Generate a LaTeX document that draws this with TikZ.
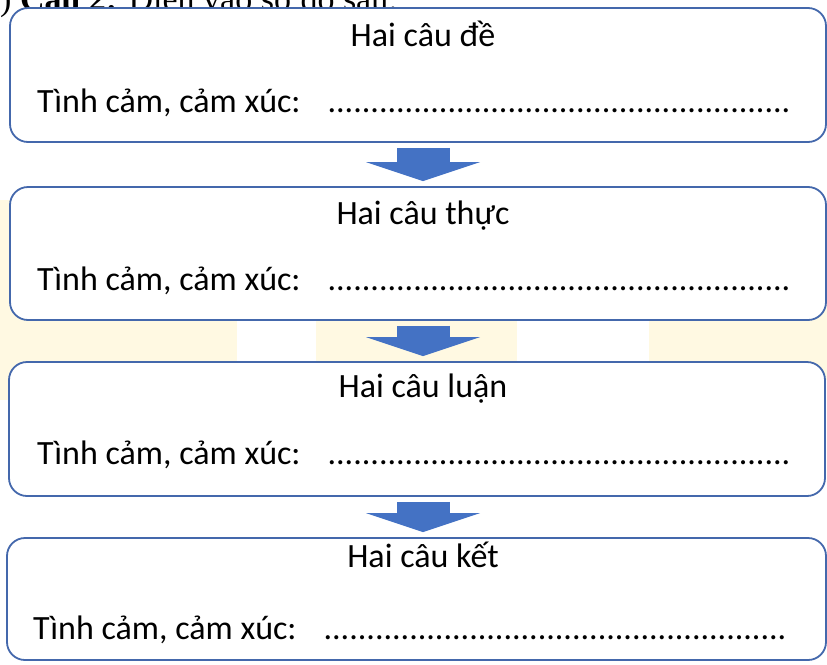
\documentclass[tikz,border=0pt]{standalone}
\usepackage{fontspec}
\setmainfont{Carlito}
\newfontfamily\headfont{Liberation Serif}
\usetikzlibrary{calc,arrows.meta}

\definecolor{boxblue}{RGB}{68,104,172}
\definecolor{arrowblue}{RGB}{68,114,196}
\definecolor{markyellow}{RGB}{255,249,226}

\tikzset{
  stage/.style={draw=boxblue, line width=1.8pt, fill=white, rounded corners=18pt, inner sep=0pt},
  title/.style={anchor=base, inner sep=0pt, font=\fontsize{34}{40}\selectfont},
  fillin/.style={anchor=base west, inner sep=0pt, font=\fontsize{34}{40}\selectfont},
  flow/.style={line width=53pt, draw=arrowblue, -{Triangle[width=114pt, length=19pt, line width=0pt]}}
}
\newcommand{\blanks}{\foreach \k in {1,...,54}{.}}

\begin{document}
\begin{tikzpicture}[x=1pt, y=-1pt]
  \useasboundingbox (0,0) rectangle (827,664);
  \clip (0,0) rectangle (827,664);

  % Faint watermark behind the boxes (draw FIRST)
  \fill[markyellow] (0,200) rectangle (237,400);
  \fill[markyellow] (316,300) rectangle (517,380);
  \fill[markyellow] (649,300) rectangle (827,380);

  % Question line, cut off at the top
  \node[anchor=base west, inner sep=0pt, font=\headfont\fontsize{34}{40}\selectfont] (head) at (0,10) {) \textbf{Câu 2:} Điền vào sơ đồ sau:};

  % Boxes
  \node[stage, minimum width=816pt, minimum height=134pt] (b1) at (418,75) {};
  \node[stage, minimum width=816pt, minimum height=133pt] (b2) at (418,253.5) {};
  \node[stage, minimum width=816pt, minimum height=134pt] (b3) at (417,429) {};
  \node[stage, minimum width=819pt, minimum height=122pt] (b4) at (416.5,599) {};

  % Box texts
  \node[title] (t1) at (423,46) {Hai câu đề};
  \node[fillin] (f1) at (37,112) {Tình cảm, cảm xúc:\hspace{27pt}\blanks};

  \node[title] (t2) at (423,224) {Hai câu thực};
  \node[fillin] (f2) at (37,290) {Tình cảm, cảm xúc:\hspace{27pt}\blanks};

  \node[title] (t3) at (423,397) {Hai câu luận};
  \node[fillin] (f3) at (37,464) {Tình cảm, cảm xúc:\hspace{27pt}\blanks};

  \node[title] (t4) at (423,567) {Hai câu kết};
  \node[fillin] (f4) at (33,639) {Tình cảm, cảm xúc:\hspace{27pt}\blanks};

  % Block arrows between the boxes
  \draw[flow] ($(b1.south)+(5,5)$) -- ($(b2.north)+(5,-5)$);
  \draw[flow] ($(b2.south)+(5,5)$) -- ($(b3.north)+(6,-5)$);
  \draw[flow] ($(b3.south)+(6,5)$) -- ($(b4.north)+(6.5,-5)$);

\end{tikzpicture}
\end{document}
